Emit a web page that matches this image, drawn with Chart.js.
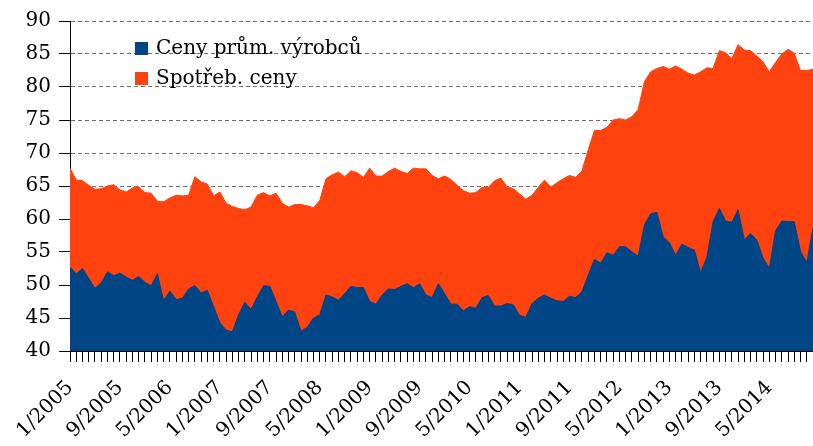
<!DOCTYPE html>
<html>
<head>
<meta charset="utf-8">
<script src="https://cdn.jsdelivr.net/npm/chart.js@4"></script>
<style>
  html, body { margin: 0; padding: 0; background: #fff; }
  canvas { display: block; }
</style>
</head>
<body>
<canvas id="chart" width="813" height="446"></canvas>
<script>
// monthly series 1/2005 .. 12/2014
const years = [2005, 2006, 2007, 2008, 2009, 2010, 2011, 2012, 2013, 2014];
const tickLabels = ['1/2005', '9/2005', '5/2006', '1/2007', '9/2007', '5/2008', '1/2009', '9/2009',
    '5/2010', '1/2011', '9/2011', '5/2012', '1/2013', '9/2013', '5/2014'];

const producerPrices = [
    52.7, 51.7, 52.5, 51.0, 49.5, 50.3, 52.0, 51.4, 51.8, 51.2, 50.7, 51.3,
    50.4, 49.9, 51.7, 47.6, 49.1, 47.8, 48.0, 49.4, 49.9, 48.8, 49.2, 46.7,
    44.3, 43.2, 42.9, 45.5, 47.4, 46.3, 48.2, 49.9, 49.8, 47.5, 45.2, 46.2,
    45.9, 43.0, 43.6, 45.0, 45.5, 48.5, 48.2, 47.7, 48.7, 49.8, 49.6, 49.6,
    47.5, 47.1, 48.5, 49.4, 49.3, 49.8, 50.2, 49.6, 50.2, 48.5, 48.1, 50.2,
    48.7, 47.1, 47.1, 46.1, 46.7, 46.5, 48.1, 48.4, 46.8, 46.8, 47.2, 47.0,
    45.4, 45.1, 47.2, 48.0, 48.5, 48.0, 47.6, 47.5, 48.3, 48.1, 49.0, 51.5,
    53.9, 53.3, 54.9, 54.5, 55.8, 55.8, 55.0, 54.4, 59.1, 60.8, 61.0, 57.3,
    56.4, 54.5, 56.2, 55.7, 55.3, 51.9, 54.2, 59.6, 61.6, 59.7, 59.5, 61.4,
    56.8, 57.8, 56.8, 54.1, 52.5, 58.2, 59.7, 59.6, 59.6, 55.1, 53.4, 58.6
];

const consumerPrices = [
    67.7, 65.9, 65.8, 65.1, 64.5, 64.6, 65.0, 65.2, 64.4, 64.1, 64.7, 64.9,
    64.0, 63.9, 62.7, 62.6, 63.2, 63.6, 63.5, 63.6, 66.4, 65.6, 65.3, 63.5,
    64.1, 62.4, 61.9, 61.6, 61.4, 61.8, 63.6, 64.0, 63.5, 63.9, 62.4, 61.8,
    62.2, 62.2, 62.0, 61.7, 62.8, 66.1, 66.7, 67.1, 66.4, 67.3, 67.0, 66.3,
    67.7, 66.5, 66.5, 67.2, 67.7, 67.2, 66.9, 67.7, 67.6, 67.6, 66.6, 66.1,
    66.5, 66.0, 65.1, 64.3, 63.9, 64.0, 64.8, 64.8, 65.8, 66.2, 64.9, 64.6,
    63.8, 63.0, 63.6, 64.8, 65.9, 64.8, 65.5, 66.1, 66.6, 66.3, 67.3, 70.5,
    73.4, 73.4, 73.9, 75.0, 75.2, 75.0, 75.5, 76.6, 80.8, 82.3, 82.8, 83.1,
    82.7, 83.2, 82.7, 82.1, 81.8, 82.3, 82.9, 82.8, 85.5, 85.2, 84.3, 86.4,
    85.6, 85.5, 84.7, 83.8, 82.3, 83.7, 85.0, 85.7, 85.1, 82.5, 82.5, 82.7
];

const categories = [];
years.forEach(y => {
    for (let m = 1; m <= 12; m++) categories.push(m + '/' + y);
});

const BLUE = '#004586';
const RED = '#ff420e';

Chart.defaults.font.family = "'DejaVu Serif', serif";
Chart.defaults.font.size = 20;
Chart.defaults.color = '#000';

// legend drawn inside the plot, top left
const insideLegend = {
    id: 'insideLegend',
    afterDraw(chart) {
        const ctx = chart.ctx;
        ctx.save();
        ctx.font = "20px 'DejaVu Serif', serif";
        ctx.textBaseline = 'middle';
        chart.data.datasets.forEach((ds, i) => {
            const y = 49 + i * 30;
            ctx.fillStyle = ds.backgroundColor;
            ctx.fillRect(135, y - 7, 13, 13);
            ctx.fillStyle = '#000';
            ctx.fillText(ds.label, 156, y);
        });
        ctx.restore();
    }
};

new Chart(document.getElementById('chart').getContext('2d'), {
    type: 'line',
    data: {
        labels: categories,
        datasets: [
            {
                label: 'Ceny prům. výrobců',
                data: producerPrices,
                backgroundColor: BLUE,
                borderColor: BLUE,
                borderWidth: 1,
                pointRadius: 0,
                fill: 'start',
                tension: 0
            },
            {
                label: 'Spotřeb. ceny',
                data: consumerPrices,
                backgroundColor: RED,
                borderColor: RED,
                borderWidth: 1,
                pointRadius: 0,
                fill: 'start',
                tension: 0
            }
        ]
    },
    options: {
        responsive: false,
        animation: false,
        layout: { padding: { top: 21, right: 0, left: 0, bottom: 0 } },
        plugins: {
            legend: { display: false },
            tooltip: { enabled: false }
        },
        scales: {
            x: {
                offset: false,
                afterFit: s => { s.height = 95; s.paddingRight = 0; },
                grid: {
                    drawOnChartArea: false,
                    drawTicks: true,
                    tickLength: 11,
                    tickColor: '#000',
                    tickWidth: 1
                },
                border: { color: '#000', width: 1 },
                ticks: {
                    autoSkip: false,
                    minRotation: 45,
                    maxRotation: 45,
                    padding: 14,
                    callback: function(value) {
                        const lab = categories[value];
                        return tickLabels.includes(lab) ? lab : '';
                    }
                }
            },
            y: {
                min: 40,
                max: 90,
                afterFit: s => { s.width = 70; },
                grid: {
                    color: c => (c.tick && c.tick.value === 40) ? 'rgba(0,0,0,0)' : '#6e6e6e',
                    lineWidth: 1,
                    tickLength: 11,
                    tickColor: '#000',
                    tickBorderDash: [0, 0]
                },
                border: { color: '#000', width: 1, dash: [4, 3] },
                ticks: {
                    stepSize: 5,
                    padding: 8
                }
            }
        }
    },
    plugins: [insideLegend]
});
</script>
</body>
</html>
